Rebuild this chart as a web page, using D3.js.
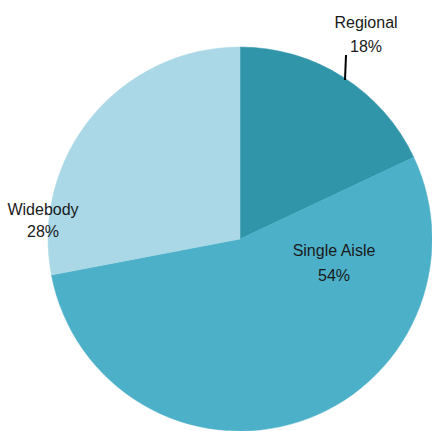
<!DOCTYPE html>
<html><head><meta charset="utf-8">
<script src="https://cdn.jsdelivr.net/npm/d3@7"></script>
<style>html,body{margin:0;padding:0;background:#fff;}svg{display:block;}</style>
</head><body>
<svg id="chart" width="432" height="431"></svg>
<script>
const categories = ["Regional", "Single Aisle", "Widebody"];
const values = [18, 54, 28];
const labels = ["18%", "54%", "28%"];
const colors = ["#3195aa", "#4cb0c9", "#abd8e6"];

const svg = d3.select("#chart");
const cx = 240, cy = 239, r = 192;
const g = svg.append("g").attr("transform", `translate(${cx},${cy})`);
const pie = d3.pie().sort(null).value(d => d.v);
const data = pie(categories.map((c, i) => ({c, v: values[i], l: labels[i], col: colors[i]})));
const arc = d3.arc().innerRadius(0).outerRadius(r);
g.selectAll("path").data(data).join("path")
  .attr("d", arc).attr("fill", d => d.data.col)
  .attr("stroke", d => d.data.col).attr("stroke-width", 0.5);

const labelPos = {
  "Regional": [366, 28, 52],
  "Single Aisle": [334, 256, 281],
  "Widebody": [43, 215, 237]
};
const font = "'Liberation Sans', Arial, sans-serif";
data.forEach(d => {
  const p = labelPos[d.data.c];
  const t = svg.append("text").attr("text-anchor", "middle")
    .attr("font-family", font).attr("font-size", 16).attr("fill", "#1a1a1a");
  t.append("tspan").attr("x", p[0]).attr("y", p[1]).text(d.data.c);
  t.append("tspan").attr("x", p[0]).attr("y", p[2]).text(d.data.l);
});
svg.append("line").attr("x1", 346).attr("y1", 55).attr("x2", 345).attr("y2", 80)
  .attr("stroke", "#000").attr("stroke-width", 2);
</script>
</body></html>
